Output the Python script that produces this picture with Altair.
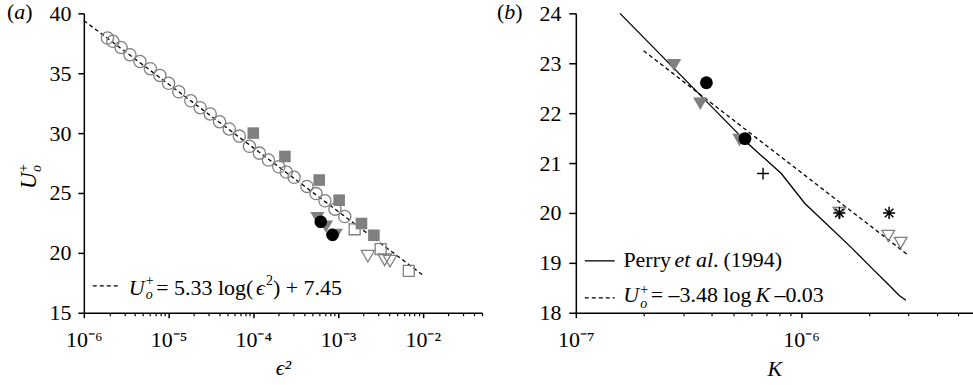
import altair as alt
import pandas as pd

FONT = "Liberation Serif"
GREY = "#808080"
FS = 22

# ---------------- Panel (a) data ----------------
a_circle_x = [1.9e-6, 2.2e-6, 2.75e-6, 3.5e-6, 4.6e-6, 6.1e-6, 7.9e-6, 1.0e-5, 1.32e-5,
              1.83e-5, 2.36e-5, 3.1e-5, 4.0e-5, 5.2e-5, 6.84e-5, 9.0e-5, 1.18e-4, 1.51e-4,
              2.0e-4, 2.45e-4, 3.03e-4, 4.3e-4, 5.5e-4, 7.0e-4, 9.2e-4, 1.2e-3]
a_circle_y = [37.94, 37.67, 37.15, 36.55, 35.98, 35.38, 34.82, 34.16, 33.45,
              32.7, 32.12, 31.6, 30.95, 30.35, 29.75, 28.9, 28.33, 27.75,
              27.19, 26.75, 26.31, 25.55, 24.95, 24.35, 23.65, 23.03]
a_sqfill_x = [1.0e-4, 2.36e-4, 6.0e-4, 1.03e-3, 1.89e-3, 2.65e-3]
a_sqfill_y = [30.0, 28.05, 26.08, 24.4, 22.45, 21.47]
a_sqopen_x = [1.57e-3, 3.18e-3, 6.84e-3]
a_sqopen_y = [21.97, 20.31, 18.5]
a_trifill_x = [5.7e-4, 7.2e-4, 9.4e-4]
a_trifill_y = [22.9, 22.2, 21.5]
a_dot_x = [6.25e-4, 8.6e-4]
a_dot_y = [22.6, 21.5]
a_triopen_x = [2.25e-3, 3.55e-3, 4.1e-3]
a_triopen_y = [19.72, 19.42, 19.3]
a_fit_x = [1e-6, 9.8e-3]
a_fit_y = [39.4, 18.2]

a_xticks = [1e-6, 1e-5, 1e-4, 1e-3, 1e-2]
a_xlabels = ["10⁻⁶", "10⁻⁵", "10⁻⁴", "10⁻³", "10⁻²"]
a_minor = [k * 10.0 ** e for e in range(-6, -2) for k in range(2, 10)] + [2e-2, 3e-2, 4e-2, 5e-2]
a_yticks = [15, 20, 25, 30, 35, 40]

# ---------------- Panel (b) data ----------------
b_perry_x = [1.57e-7, 5.81e-7, 8.17e-7, 1.04e-6, 1.27e-6, 1.66e-6, 2.11e-6, 2.50e-6, 2.72e-6, 2.92e-6]
b_perry_y = [24.0, 21.39, 20.79, 20.19, 19.82, 19.32, 18.85, 18.52, 18.35, 18.25]
b_fit_x = [2.0e-7, 2.96e-6]
b_fit_y = [23.25, 19.17]
b_trifill_x = [2.73e-7, 3.57e-7, 5.33e-7]
b_trifill_y = [22.96, 22.19, 21.46]
b_dot_x = [3.80e-7, 5.64e-7]
b_dot_y = [22.61, 21.49]
b_plus_x = [6.78e-7]
b_plus_y = [20.79]
b_triopen_x = [1.48e-6, 2.44e-6, 2.77e-6]
b_triopen_y = [20.0, 19.54, 19.4]
b_star_x = [1.48e-6, 2.46e-6]
b_star_y = [20.0, 20.0]

b_xticks = [1e-7, 1e-6]
b_xlabels = ["10⁻⁷", "10⁻⁶"]
b_minor = [k * 1e-7 for k in range(2, 10)] + [k * 1e-6 for k in range(2, 6)]
b_yticks = [18, 19, 20, 21, 22, 23, 24]

ASTERISK = "M-1,0L1,0M0,-1L0,1M-0.7,-0.7L0.7,0.7M-0.7,0.7L0.7,-0.7"
PLUS = "M-1,0L1,0M0,-1L0,1"


def label_expr(labels, first_exp):
    arr = "[" + ",".join("'" + s + "'" for s in labels) + "]"
    return arr + "[round(log(datum.value)/LN10) - (" + str(first_exp) + ")]"


def panel(xdom, ydom, xticks, xlabels, first_exp, minor, yticks, xtitle, xtp, ytick, ypad, layers):
    xs = alt.Scale(type="log", domain=xdom, nice=False)
    ys = alt.Scale(domain=ydom, nice=False, zero=False)
    xaxis = alt.Axis(orient="bottom", values=xticks, labelExpr=label_expr(xlabels, first_exp),
                     tickSize=5, labelPadding=12, title=xtitle, titleFontStyle="italic",
                     titlePadding=xtp, labelFlush=False, labelOverlap=False)
    yaxis = alt.Axis(values=yticks, tickSize=ytick, labelPadding=ypad, title="",
                     labelFlush=False, labelOverlap=False)

    charts = []
    for kind, xv, yv, opts in layers:
        df = pd.DataFrame({"x": xv, "y": yv})
        if kind == "line":
            m = alt.Chart(df).mark_line(color="black", strokeWidth=opts.get("sw", 1.3),
                                        **({"strokeDash": opts["dash"]} if "dash" in opts else {}))
        else:
            m = alt.Chart(df).mark_point(opacity=1, **opts)
        charts.append(m.encode(x=alt.X("x:Q", scale=xs, axis=xaxis),
                               y=alt.Y("y:Q", scale=ys, axis=yaxis)))
    main = alt.layer(*charts)
    mdf = pd.DataFrame({"x": minor})
    minor_layer = alt.Chart(mdf).mark_point(opacity=0).encode(
        x=alt.X("x:Q", scale=xs,
                axis=alt.Axis(orient="bottom", values=minor, labels=False, domain=False, tickSize=3,
                              tickWidth=1.2, title="")),
        y=alt.value(0))
    return main, minor_layer


def txt(s, x, y, size=FS, style="normal", angle=0):
    return alt.Chart(alt.Data(values=[{"t": 0}])).mark_text(
        text=s, font=FONT, fontSize=size, fontStyle=style, align="left", angle=angle,
        baseline="alphabetic", color="black").encode(x=alt.value(x), y=alt.value(y))


def seg(x1, x2, y, dash=None):
    kw = {"strokeDash": dash} if dash else {}
    return alt.Chart(alt.Data(values=[{"t": 0}])).mark_rule(
        color="black", strokeWidth=1.3, **kw).encode(x=alt.value(x1), x2=alt.value(x2), y=alt.value(y))


# ---------- panel (a) ----------
a_layers = [
    ("line", a_fit_x, a_fit_y, {"dash": [4, 3]}),
    ("pt", a_circle_x, a_circle_y, dict(shape="circle", size=150, filled=False, color=GREY, strokeWidth=1.3)),
    ("pt", a_sqfill_x, a_sqfill_y, dict(shape="square", size=135, filled=True, color=GREY)),
    ("pt", a_sqopen_x, a_sqopen_y, dict(shape="square", size=120, filled=False, color=GREY, strokeWidth=1.3)),
    ("pt", a_trifill_x, a_trifill_y, dict(shape="triangle-down", size=200, filled=True, color=GREY)),
    ("pt", a_dot_x, a_dot_y, dict(shape="circle", size=160, filled=True, color="black")),
    ("pt", a_triopen_x, a_triopen_y, dict(shape="triangle-down", size=180, filled=False, color=GREY, strokeWidth=1.3)),
]
main_a, minor_a = panel([1e-6, 5e-2], [15, 40], a_xticks, a_xlabels, -6, a_minor, a_yticks,
                        "ϵ²", 7, 6, 7, a_layers)
ann_a = [
    txt("(", -77, 5.5), txt("a", -69.7, 5.5, style="italic"), txt(")", -58.7, 5.5),
    # y-axis title U_o^+
    txt("U", -48, 176, size=23, style="italic", angle=270),
    txt("+", -56, 159, size=14, angle=270),
    txt("o", -43, 159, size=14, style="italic", angle=270),
    # legend
    seg(9, 36, 273, [4, 3]),
    txt("U", 45, 282, style="italic"),
    txt("+", 62, 272.5, size=14),
    txt("o", 62, 286, size=14, style="italic"),
    txt("= 5.33 log(", 72.5, 282),
    txt("ϵ", 172.5, 282, style="italic"),
    txt("2", 182.5, 272, size=14),
    txt(") + 7.45", 189.5, 282),
]
pa = alt.layer(main_a, minor_a, *ann_a).resolve_axis(x="independent").properties(width=399, height=300)

# ---------- panel (b) ----------
b_layers = [
    ("line", b_perry_x, b_perry_y, {"sw": 1.3}),
    ("line", b_fit_x, b_fit_y, {"dash": [4, 3]}),
    ("pt", b_trifill_x, b_trifill_y, dict(shape="triangle-down", size=210, filled=True, color=GREY)),
    ("pt", b_dot_x, b_dot_y, dict(shape="circle", size=165, filled=True, color="black")),
    ("pt", b_plus_x, b_plus_y, dict(shape=PLUS, size=140, filled=False, color="black", strokeWidth=1.4)),
    ("pt", b_triopen_x, b_triopen_y, dict(shape="triangle-down", size=160, filled=False, color=GREY, strokeWidth=1.3)),
    ("pt", b_star_x, b_star_y, dict(shape=ASTERISK, size=150, filled=False, color="black", strokeWidth=1.5)),
]
main_b, minor_b = panel([1e-7, 5.8e-6], [18, 24], b_xticks, b_xlabels, -7, b_minor, b_yticks,
                        "K", 8, 7, 8, b_layers)
ann_b = [
    txt("(", -79, 5.5), txt("b", -71.7, 5.5, style="italic"), txt(")", -60.7, 5.5),
    seg(9, 39, 248),
    txt("Perry", 47.7, 254),
    txt("et al", 99, 254, style="italic"),
    txt(".", 137.5, 254),
    txt("(1994)", 148, 254),
    seg(9, 39, 285, [4, 3]),
    txt("U", 47.5, 289, style="italic"),
    txt("+", 64.5, 281.5, size=14),
    txt("o", 64.5, 295.5, size=14, style="italic"),
    txt("= –3.48 log", 75, 289),
    txt("K", 180, 289, style="italic"),
    txt("–0.03", 199, 289),
]
pb = alt.layer(main_b, minor_b, *ann_b).resolve_axis(x="independent").properties(width=398, height=300)

chart = alt.hconcat(pa, pb, spacing=12).properties(
    padding={"left": 7, "top": 0, "right": 0, "bottom": 0},
    background="white",
).configure_view(stroke=None).configure_axis(
    domainColor="black", domainWidth=1.5, tickColor="black", tickWidth=1.5,
    labelFont=FONT, labelFontSize=FS, labelColor="black",
    titleFont=FONT, titleFontSize=FS, titleColor="black", titleFontWeight="normal",
    grid=False,
)

chart.save("out.html", embed_options={"renderer": "svg", "actions": False})
